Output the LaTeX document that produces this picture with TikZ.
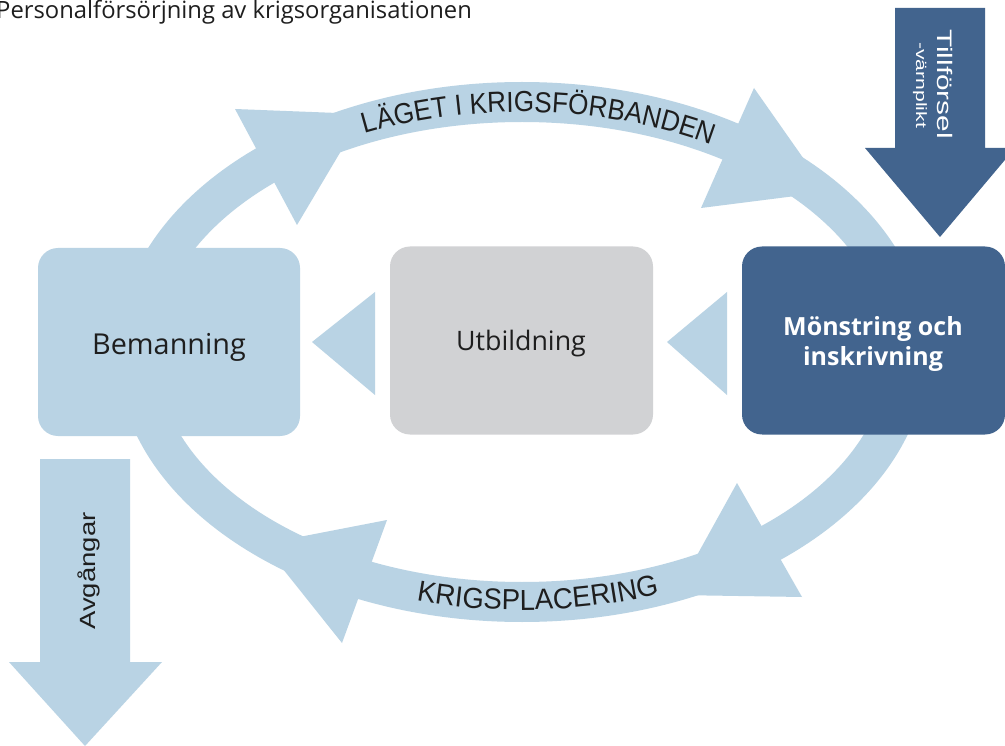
\documentclass[tikz,border=0pt]{standalone}
\usepackage{fontspec}
\setmainfont{Open Sans}
\newfontfamily\arcfonttop[FakeStretch=0.9]{Liberation Sans}
\newfontfamily\arcfontbot[FakeStretch=0.95]{Liberation Sans}
\newfontfamily\arialfont{Liberation Sans}
\usetikzlibrary{decorations.text}
\definecolor{lightb}{HTML}{B9D3E4}
\definecolor{greyb}{HTML}{D1D2D4}
\definecolor{darkb}{HTML}{42648E}
\definecolor{txt}{HTML}{1E1E1E}
\tikzset{
  boxshape/.style={rectangle, rounded corners=20pt, inner sep=0pt, minimum width=263pt, minimum height=188pt},
  boxtext/.style={inner sep=0pt, text=txt, align=center},
  arctext/.style={decorate, decoration={text along path, text align=center}},
}
\begin{document}
\begin{tikzpicture}[x=1pt,y=1pt]
\clip (0,0) rectangle (1005,-746);
\fill[white] (0,0) rectangle (1005,-746);
\coordinate (c) at (522,-352);
% ring
\fill[lightb, even odd rule] (c) ellipse[x radius=405pt, y radius=270pt]
                              (c) ellipse[x radius=366pt, y radius=230pt];
% ring arrowheads
\fill[lightb] (235,-109) -- (297,-225) -- (363,-114) -- cycle;
\fill[lightb] (754,-88) -- (701,-208) -- (827,-192) -- cycle;
\fill[lightb] (737,-483) -- (802,-597) -- (675,-595) -- cycle;
\fill[lightb] (387,-520) -- (342,-643) -- (263,-544) -- cycle;
% arc texts
\path[arctext, decoration={text={|\arcfonttop\fontsize{29}{29}\selectfont\color{txt}|LÄGET I KRIGSFÖRBANDEN}}]
  ([shift={(127:376pt and 240pt)}]c) arc[start angle=127, end angle=47, x radius=376pt, y radius=240pt];
\path[arctext, decoration={text={|\arcfontbot\fontsize{29}{29}\selectfont\color{txt}|KRIGSPLACERING}}]
  ([shift={(232.7:393pt and 258pt)}]c) arc[start angle=232.7, end angle=312.7, x radius=393pt, y radius=258pt];
% boxes
\node[boxshape, fill=lightb, minimum width=262pt] (bem) at (169,-342) {};
\node[boxshape, fill=greyb] (utb) at (521.5,-340.5) {};
\node[boxshape, fill=darkb] (mon) at (873.5,-340.5) {};
\node[boxtext, font=\fontsize{28.8}{28.8}\selectfont] (bemt) at (169,-347) {Bemanning};
\node[boxtext, font=\fontsize{26.8}{26.8}\selectfont] (utbt) at (521,-344) {Utbildning};
\node[boxtext, text=white, font=\bfseries\fontsize{25}{30}\selectfont] (mont) at (873,-344) {Mönstring och\\inskrivning};
% inner arrowheads
\fill[lightb] (312,-342) -- (375,-292) -- (375,-395) -- cycle;
\fill[lightb] (667,-342) -- (727,-292) -- (727,-395) -- cycle;
% Tillförsel arrow
\fill[darkb] (895,-8) -- (985,-8) -- (985,-148) -- (1015,-148) -- (940,-237) -- (865,-148) -- (895,-148) -- cycle;
\node[rotate=-90, inner sep=0pt, text=white, font=\arialfont\fontsize{21}{21}\selectfont] (till) at (945,-84) {\scalebox{1.42}[1]{Tillförsel}};
\node[rotate=-90, inner sep=0pt, text=white, font=\arialfont\fontsize{15}{15}\selectfont] (varn) at (920,-85) {\scalebox{1.41}[1]{-värnplikt}};
% Avgångar arrow
\fill[lightb] (40,-459) -- (130,-459) -- (130,-662) -- (162,-662) -- (85,-746) -- (9,-662) -- (40,-662) -- cycle;
\node[rotate=90, inner sep=0pt, text=txt, font=\arialfont\fontsize{22}{22}\selectfont] (avg) at (89,-571) {\scalebox{1.25}[1]{Avgångar}};
% title
\node[anchor=base west, inner sep=0pt, text=txt, font=\fontsize{23.8}{23.8}\selectfont] (title) at (-4,-19) {Personalförsörjning av krigsorganisationen};
\end{tikzpicture}
\end{document}
